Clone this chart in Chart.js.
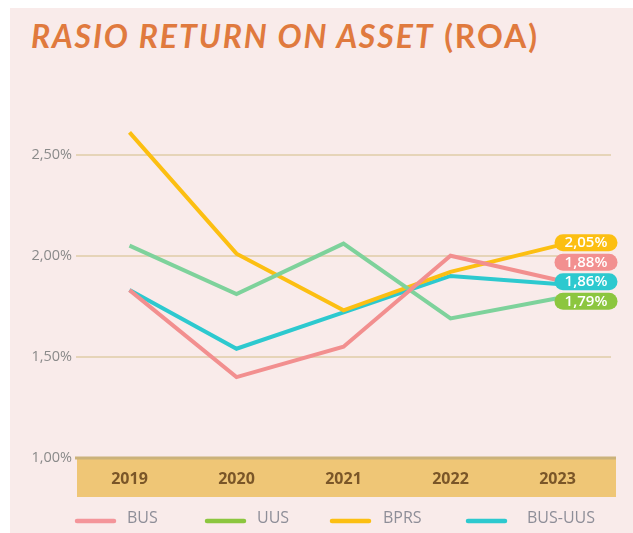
<!DOCTYPE html>
<html>
<head>
<meta charset="utf-8">
<script src="https://cdn.jsdelivr.net/npm/chart.js@4.4.1/dist/chart.umd.min.js"></script>
<style>
  html, body { margin: 0; padding: 0; background: #ffffff; }
  #wrap { position: relative; width: 633px; height: 533px; overflow: hidden; }
  #panel { position: absolute; left: 10px; top: 8px; width: 623px; height: 525px; background: #f9ebea; }
  #title { position: absolute; left: 31px; top: 16px; margin: 0; font-family: Lato, "Open Sans", sans-serif;
           font-size: 32px; font-weight: 700; color: #e07a3e; white-space: nowrap; letter-spacing: 1.9px; }
  #title em { font-style: italic; }
  #title span { font-style: normal; }
  canvas { position: absolute; left: 0; top: 0; }
</style>
</head>
<body>
<div id="wrap">
  <div id="panel"></div>
  <h1 id="title"><em>RASIO RETURN ON ASSET</em> <span>(ROA)</span></h1>
  <canvas id="c" width="633" height="533"></canvas>
</div>
<script>
const categories = ['2019', '2020', '2021', '2022', '2023'];
const seriesNames = ['BUS', 'UUS', 'BPRS', 'BUS-UUS'];
const busValues    = [1.83, 1.40, 1.55, 2.00, 1.88];
const uusValues    = [2.05, 1.81, 2.06, 1.69, 1.79];
const bprsValues   = [2.61, 2.01, 1.73, 1.92, 2.05];
const busUusValues = [1.83, 1.54, 1.72, 1.90, 1.86];
const yTickValues  = [1.00, 1.50, 2.00, 2.50];

const lineColors  = ['#f28f8f', '#7ed29b', '#fcbf12', '#2dc9cf'];
const labelColors = ['#f29090', '#8cc63f', '#fcbf12', '#2dc9cf'];
const legendColors = ['#f4959a', '#8cc63f', '#fcbf12', '#2dc9cf'];

const fmt = v => v.toFixed(2).replace('.', ',') + '%';

const bandPlugin = {
  id: 'band',
  beforeDatasetsDraw(chart) {
    const { ctx, chartArea } = chart;
    ctx.save();
    ctx.fillStyle = '#efc676';
    ctx.fillRect(chartArea.left + 1, chartArea.bottom, chartArea.right - chartArea.left + 4, 39);
    ctx.strokeStyle = '#cbb27a';
    ctx.lineWidth = 3;
    ctx.beginPath();
    ctx.moveTo(chartArea.left - 1, chartArea.bottom);
    ctx.lineTo(chartArea.right + 5, chartArea.bottom);
    ctx.stroke();
    ctx.restore();
  },
  afterDatasetsDraw(chart) {
    const { ctx, chartArea } = chart;
    const xs = chart.scales.x;
    ctx.save();
    ctx.fillStyle = '#7a5628';
    ctx.font = 'bold 16px "Open Sans", sans-serif';
    ctx.textAlign = 'center';
    ctx.textBaseline = 'middle';
    categories.forEach((c, i) => {
      ctx.fillText(c, xs.getPixelForValue(i), chartArea.bottom + 21);
    });
    ctx.restore();
  }
};

const endLabelPlugin = {
  id: 'endLabels',
  afterDatasetsDraw(chart) {
    const { ctx } = chart;
    const items = chart.data.datasets.map((ds, i) => {
      const meta = chart.getDatasetMeta(i);
      const pt = meta.data[meta.data.length - 1];
      return { x: pt.x, y: pt.y, v: ds.data[ds.data.length - 1], color: labelColors[i] };
    });
    items.sort((a, b) => b.y - a.y);
    let prev = null;
    items.forEach(it => {
      let ly = it.y + 3;
      if (prev !== null) ly = Math.min(ly, prev - 19.5);
      it.ly = ly;
      prev = ly;
    });
    ctx.save();
    items.forEach(it => {
      const w = 63, h = 17, x0 = it.x - 3, y0 = it.ly - h / 2;
      ctx.fillStyle = it.color;
      ctx.beginPath();
      ctx.roundRect(x0, y0, w, h, 8.5);
      ctx.fill();
      ctx.fillStyle = '#ffffff';
      ctx.font = '600 15px "Open Sans", sans-serif';
      ctx.textAlign = 'center';
      ctx.textBaseline = 'middle';
      ctx.fillText(fmt(it.v), x0 + w / 2, it.ly + 0.5);
    });
    ctx.restore();
  }
};

const legendPlugin = {
  id: 'customLegend',
  afterDraw(chart) {
    const { ctx } = chart;
    const pos = [[75, 127], [205, 257], [330, 383], [466, 527]];
    ctx.save();
    ctx.font = '16px "Open Sans", sans-serif';
    ctx.textBaseline = 'middle';
    ctx.textAlign = 'left';
    seriesNames.forEach((n, i) => {
      ctx.strokeStyle = legendColors[i];
      ctx.lineWidth = 4.5;
      ctx.lineCap = 'round';
      ctx.beginPath();
      ctx.moveTo(pos[i][0] + 2, 521);
      ctx.lineTo(pos[i][0] + 39, 521);
      ctx.stroke();
      ctx.fillStyle = '#8e8e98';
      ctx.fillText(n, pos[i][1], 518);
    });
    ctx.restore();
  }
};

const allValues = [busValues, uusValues, bprsValues, busUusValues];

new Chart(document.getElementById('c'), {
  type: 'line',
  data: {
    labels: categories,
    datasets: seriesNames.map((n, i) => ({
      label: n,
      data: allValues[i],
      borderColor: lineColors[i],
      backgroundColor: lineColors[i],
      borderWidth: 4,
      pointRadius: 0,
      tension: 0,
      fill: false
    }))
  },
  options: {
    responsive: false,
    animation: false,
    layout: { padding: { left: 10, right: 22, top: 104, bottom: 0 } },
    plugins: { legend: { display: false }, tooltip: { enabled: false } },
    scales: {
      x: {
        offset: true,
        grid: { display: false, drawTicks: false },
        border: { display: false },
        ticks: { display: false },
        afterFit(s) { s.height = 75; }
      },
      y: {
        min: 1.0,
        max: 2.75,
        afterBuildTicks(s) { s.ticks = yTickValues.map(v => ({ value: v })); },
        afterFit(s) { s.width = 66; },
        border: { display: false },
        grid: {
          drawTicks: false,
          color: '#e6d4b8',
          lineWidth: 2
        },
        ticks: {
          padding: 4,
          color: '#8a8a8a',
          font: { family: '"Open Sans", sans-serif', size: 14.5 },
          callback: v => fmt(v)
        }
      }
    }
  },
  plugins: [bandPlugin, endLabelPlugin, legendPlugin]
});
</script>
</body>
</html>
